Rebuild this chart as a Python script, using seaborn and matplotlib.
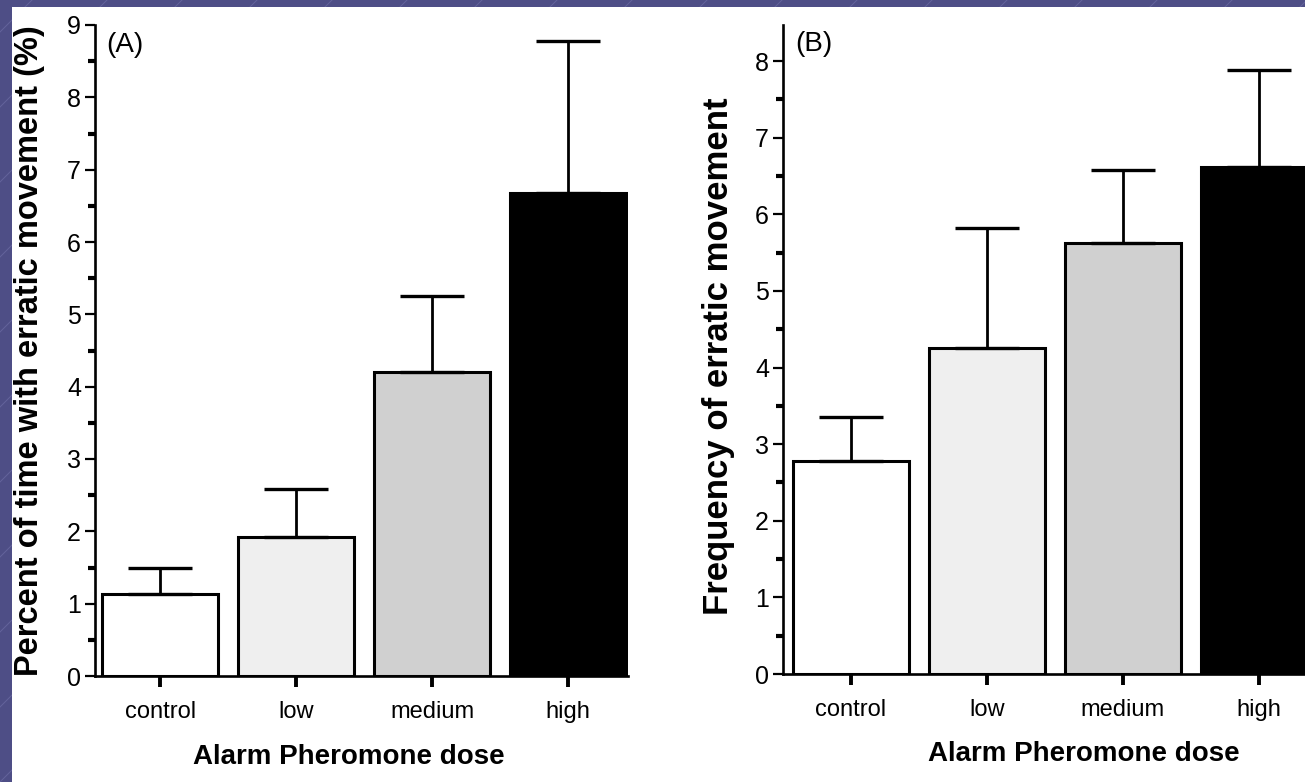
import numpy as np
import pandas as pd
import matplotlib
matplotlib.use("Agg")
import matplotlib.pyplot as plt
from matplotlib.patches import Rectangle
from matplotlib.lines import Line2D
from matplotlib.ticker import MultipleLocator
import seaborn as sns

# ---------------- data ----------------
categories = ["control", "low", "medium", "high"]
percent_mean = [1.13, 1.92, 4.20, 6.68]
percent_upper = [1.50, 2.58, 5.25, 8.78]
freq_mean = [2.78, 4.25, 5.62, 6.62]
freq_upper = [3.35, 5.82, 6.58, 7.88]
bar_colors = ["#FFFFFF", "#EFEFEF", "#D0D0D0", "#000000"]
xlabel_text = "Alarm Pheromone dose"
ylabel_a = "Percent of time with erratic movement (%)"
ylabel_b = "Frequency of erratic movement"

sns.set_theme(style="white")
plt.rcParams["font.family"] = ["Liberation Sans", "DejaVu Sans"]
plt.rcParams["text.color"] = "black"
plt.rcParams["axes.labelcolor"] = "black"
plt.rcParams["xtick.color"] = "black"
plt.rcParams["ytick.color"] = "black"

W, H = 1305, 782
fig = plt.figure(figsize=(W / 100, H / 100), dpi=100)
fig.patch.set_facecolor("#4E4E86")

# diagonal slide-background lines
for k in range(-20, 40):
    x0 = k * 75
    fig.add_artist(Line2D([x0 / W, (x0 + 800) / W], [0, 800 / H],
                          color="#7A7AB0", lw=0.7, alpha=0.5, zorder=0))
# white slide area
fig.add_artist(Rectangle((12 / W, 0), 1, (H - 7) / H, transform=fig.transFigure,
                         facecolor="white", edgecolor="none", zorder=0.5))


def panel(rect, means, uppers, ylim, ytick_max, ylabel, ylab_size, letter,
          ylab_coords, xlab_coords, xlim):
    ax = fig.add_axes(rect, zorder=2)
    ax.set_facecolor("white")
    df = pd.DataFrame({"dose": categories, "value": means})
    sns.barplot(data=df, x="dose", y="value", hue="dose", palette=bar_colors,
                order=categories, hue_order=categories, legend=False,
                width=0.85, edgecolor="black", linewidth=2.2, ax=ax,
                saturation=1)
    pos = np.arange(len(categories))
    err = np.array(uppers) - np.array(means)
    ax.errorbar(pos, means, yerr=[np.zeros_like(err), err], fmt="none",
                ecolor="black", elinewidth=2.0, capsize=23, capthick=2.4,
                zorder=1)
    ax.set_xlim(*xlim)
    ax.set_ylim(*ylim)
    ax.set_yticks(np.arange(0, ytick_max + 1, 1))
    ax.yaxis.set_minor_locator(MultipleLocator(0.5))
    for s in ["top", "right"]:
        ax.spines[s].set_visible(False)
    for s in ["left", "bottom"]:
        ax.spines[s].set_linewidth(1.9)
        ax.spines[s].set_color("black")
    ax.tick_params(axis="y", which="major", direction="out", length=7,
                   width=1.6, labelsize=18, pad=3, left=True, color="black")
    ax.tick_params(axis="y", which="minor", direction="out", length=5,
                   width=3.0, left=True, color="black")
    ax.tick_params(axis="x", which="major", direction="out", length=8,
                   width=2.8, labelsize=17, pad=10, bottom=True, color="black")
    ax.set_xlabel(xlabel_text, fontsize=20, fontweight="bold")
    ax.set_ylabel(ylabel, fontsize=ylab_size, fontweight="bold")
    ax.yaxis.set_label_coords(*ylab_coords)
    ax.xaxis.set_label_coords(*xlab_coords)
    ax.text(0.022, 0.99, letter, transform=ax.transAxes, fontsize=20,
            va="top", ha="left")
    return ax


axA = panel([95 / W, 106 / H, 533 / W, 651 / H], percent_mean, percent_upper,
            (0, 9), 9, ylabel_a, 23.5, "(A)", (-0.093, 0.5), (0.477, -0.105),
            (-0.48, 3.44))
axB = panel([783 / W, 108 / H, 537 / W, 649 / H], freq_mean, freq_upper,
            (0, 8.47), 8, ylabel_b, 25, "(B)", (-0.09, 0.49), (0.56, -0.103),
            (-0.5, 3.45))

fig.savefig("out.png", dpi=100)
